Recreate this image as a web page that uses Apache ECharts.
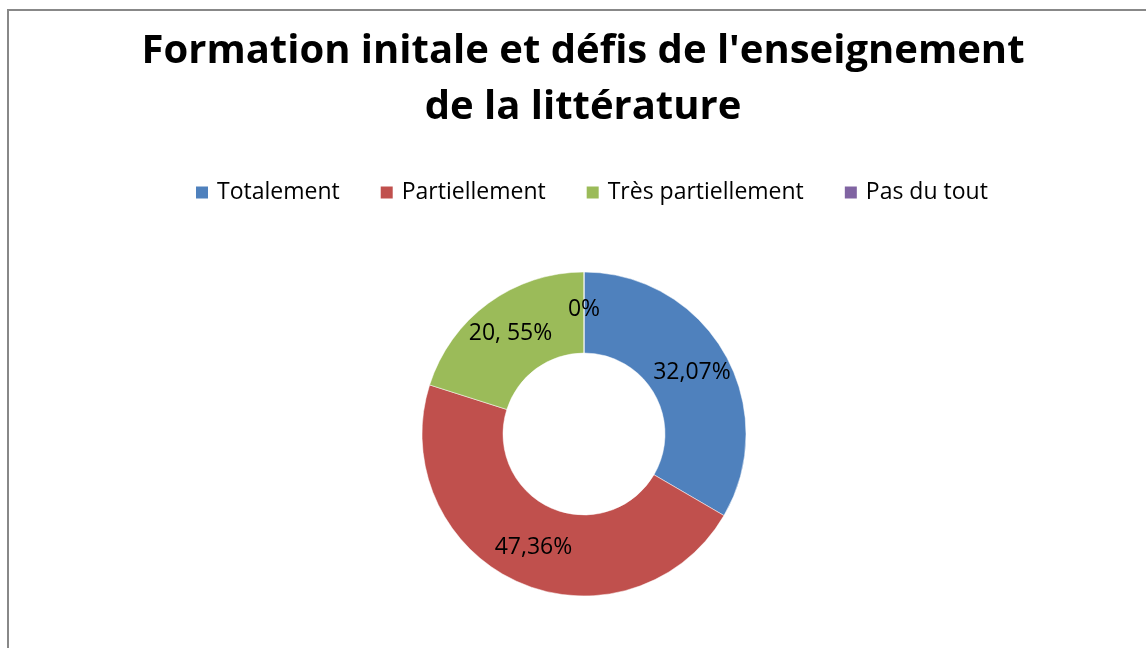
<!DOCTYPE html>
<html><head><meta charset="utf-8">
<script src="https://cdn.jsdelivr.net/npm/echarts@6/dist/echarts.min.js"></script>
<style>html,body{margin:0;padding:0;background:#fff}#c{width:1146px;height:648px}</style>
</head><body><div id="c"></div>
<script>
const categories = ['Totalement', 'Partiellement', 'Très partiellement', 'Pas du tout'];
const values = [33.4, 46.5, 20.1, 0];
const labels = ['32,07%', '47,36%', '20, 55%', '0%'];
const colors = ['#4F81BD', '#C0504D', '#9BBB59', '#8064A2'];
const titleText = "Formation initale et défis de l'enseignement\nde la littérature";
const FONT = '"Open Sans", sans-serif';

const chart = echarts.init(document.getElementById('c'), null, {renderer: 'canvas'});
chart.setOption({
  animation: false,
  color: colors,
  graphic: [{
    type: 'rect', shape: {x: 8, y: 10, width: 1200, height: 700},
    style: {fill: 'none', stroke: '#888888', lineWidth: 2}, silent: true
  }],
  title: {
    text: titleText, left: 578, textAlign: 'center', top: 19,
    textStyle: {fontFamily: FONT, fontWeight: 'bold', fontSize: 40, lineHeight: 56, color: '#000'}
  },
  legend: {
    data: categories, top: 176, left: 189, icon: 'rect', itemWidth: 14, itemHeight: 14,
    itemGap: 39,
    textStyle: {fontFamily: FONT, fontSize: 23, color: '#000', padding: [0, 0, 0, 3]}
  },
  series: [{
    type: 'pie', center: [584, 434], radius: [81, 162], startAngle: 90, clockwise: true,
    itemStyle: {borderColor: '#fff', borderWidth: 0.5},
    label: {position: 'inside', fontFamily: FONT, fontSize: 23, color: '#000',
      formatter: p => labels[p.dataIndex]},
    labelLine: {show: false},
    data: categories.map((c, i) => ({name: c, value: values[i]}))
  }]
});
</script></body></html>
